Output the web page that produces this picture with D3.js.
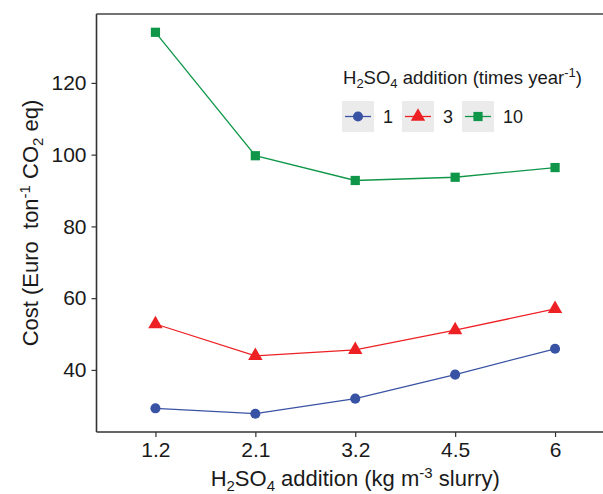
<!DOCTYPE html>
<html lang="en">
<head>
  <meta charset="UTF-8">
  <title>Cost vs H2SO4 addition</title>
  <script src="https://cdn.jsdelivr.net/npm/d3@7"></script>
  <style>
    body {
      margin: 0;
      background: #fff;
      font-family: "Liberation Sans", Arial, sans-serif;
    }
    svg {
      display: block;
    }
    text {
      white-space: pre;
    }
  </style>
</head>
<body>
  <svg></svg>
  <script>
    // data
    const doses = ['1.2', '2.1', '3.2', '4.5', '6'];
    const freqs = ['1', '3', '10'];
    const cost1 = [29.3, 27.8, 32.0, 38.7, 45.9];
    const cost3 = [52.8, 43.9, 45.6, 51.1, 57.0];
    const cost10 = [134.1, 99.7, 92.8, 93.7, 96.4];
    const yTicks = [40, 60, 80, 100, 120];

    const colors = ['#3953a4', '#ed2024', '#0f9648'];
    const shapes = [d3.symbolCircle, d3.symbolTriangle, d3.symbolSquare];
    const sizes = [80, 90, 85];

    const series = freqs.map((f, i) => ({
      name: f,
      values: [cost1, cost3, cost10][i].map((v, j) => ({ x: doses[j], y: v }))
    }));

    const width = 603;
    const height = 494;
    const margin = { top: 14, right: -11, bottom: 62, left: 96.5 };

    const svg = d3.select('svg')
      .attr('width', width)
      .attr('height', height);

    const x = d3.scalePoint()
      .domain(doses)
      .range([margin.left, width - margin.right])
      .padding(0.59);

    const y = d3.scaleLinear()
      .domain([22.7, 139.2])
      .range([height - margin.bottom, margin.top]);

    // frame: top border
    svg.append('line')
      .attr('x1', margin.left).attr('x2', width)
      .attr('y1', margin.top).attr('y2', margin.top)
      .attr('stroke', '#444')
      .attr('stroke-width', 1.6);

    const xAxis = svg.append('g')
      .attr('transform', `translate(0,${height - margin.bottom})`)
      .call(d3.axisBottom(x).tickSize(5).tickPadding(5));

    const yAxis = svg.append('g')
      .attr('transform', `translate(${margin.left},0)`)
      .call(d3.axisLeft(y).tickValues(yTicks).tickSize(5).tickPadding(5));

    [xAxis, yAxis].forEach(g => {
      g.select('.domain').attr('stroke', '#333').attr('stroke-width', 1.6);
      g.selectAll('.tick line').attr('stroke', '#333').attr('stroke-width', 1.2);
      g.selectAll('.tick text')
        .attr('fill', '#1a1a1a')
        .style('font-size', '21px')
        .style('font-family', '"Liberation Sans", Arial, sans-serif');
    });
    xAxis.select('.domain').attr('d', `M${margin.left},0H${width}`);
    yAxis.select('.domain').attr('d', `M0,${height - margin.bottom}V${margin.top}`);

    const line = d3.line()
      .x(d => x(d.x))
      .y(d => y(d.y));

    const groups = svg.append('g')
      .selectAll('g')
      .data(series)
      .join('g');

    groups.append('path')
      .attr('fill', 'none')
      .attr('stroke', (d, i) => colors[i])
      .attr('stroke-width', 1.3)
      .attr('d', d => line(d.values));

    groups.each(function (d, i) {
      d3.select(this).selectAll('path.pt')
        .data(d.values)
        .join('path')
        .attr('class', 'pt')
        .attr('transform', p => `translate(${x(p.x)},${y(p.y)})`)
        .attr('d', d3.symbol().type(shapes[i]).size(sizes[i]))
        .attr('fill', colors[i]);
    });

    // axis titles
    const xt = svg.append('text')
      .attr('x', (margin.left + width - margin.right) / 2)
      .attr('y', 486)
      .attr('text-anchor', 'middle')
      .attr('fill', '#1a1a1a')
      .style('font-size', '22px');
    xt.append('tspan').text('H');
    xt.append('tspan').attr('dy', 5).style('font-size', '15px').text('2');
    xt.append('tspan').attr('dy', -5).text('SO');
    xt.append('tspan').attr('dy', 5).style('font-size', '15px').text('4');
    xt.append('tspan').attr('dy', -5).text(' addition (kg m');
    xt.append('tspan').attr('dy', -8).style('font-size', '15px').text('-3');
    xt.append('tspan').attr('dy', 8).text(' slurry)');

    const yt = svg.append('text')
      .attr('transform', `translate(38,${(margin.top + height - margin.bottom) / 2}) rotate(-90)`)
      .attr('text-anchor', 'middle')
      .attr('fill', '#1a1a1a')
      .style('font-size', '22px');
    yt.append('tspan').text('Cost (Euro  ton');
    yt.append('tspan').attr('dy', -8).style('font-size', '15px').text('-1');
    yt.append('tspan').attr('dy', 8).text(' CO');
    yt.append('tspan').attr('dy', 5).style('font-size', '15px').text('2');
    yt.append('tspan').attr('dy', -5).text(' eq)');

    // legend
    const lg = svg.append('g');
    const lt = lg.append('text')
      .attr('x', 343)
      .attr('y', 84)
      .attr('fill', '#1a1a1a')
      .style('font-size', '18.5px');
    lt.append('tspan').text('H');
    lt.append('tspan').attr('dy', 4).style('font-size', '13px').text('2');
    lt.append('tspan').attr('dy', -4).text('SO');
    lt.append('tspan').attr('dy', 4).style('font-size', '13px').text('4');
    lt.append('tspan').attr('dy', -4).text(' addition (times year');
    lt.append('tspan').attr('dy', -7).style('font-size', '13px').text('-1');
    lt.append('tspan').attr('dy', 7).text(')');

    const keyX = [342, 402, 462];
    const keys = lg.selectAll('g.key')
      .data(series)
      .join('g')
      .attr('class', 'key')
      .attr('transform', (d, i) => `translate(${keyX[i]},101)`);

    keys.append('rect')
      .attr('width', 32).attr('height', 31)
      .attr('fill', '#ebebeb');
    keys.append('line')
      .attr('x1', 3).attr('x2', 29)
      .attr('y1', 15.5).attr('y2', 15.5)
      .attr('stroke', (d, i) => colors[i])
      .attr('stroke-width', 1.3);
    keys.append('path')
      .attr('transform', 'translate(16,15.5)')
      .attr('d', (d, i) => d3.symbol().type(shapes[i]).size(sizes[i])())
      .attr('fill', (d, i) => colors[i]);
    keys.append('text')
      .attr('x', 41)
      .attr('y', 22)
      .attr('fill', '#1a1a1a')
      .style('font-size', '18px')
      .text(d => d.name);
  </script>
</body>
</html>
